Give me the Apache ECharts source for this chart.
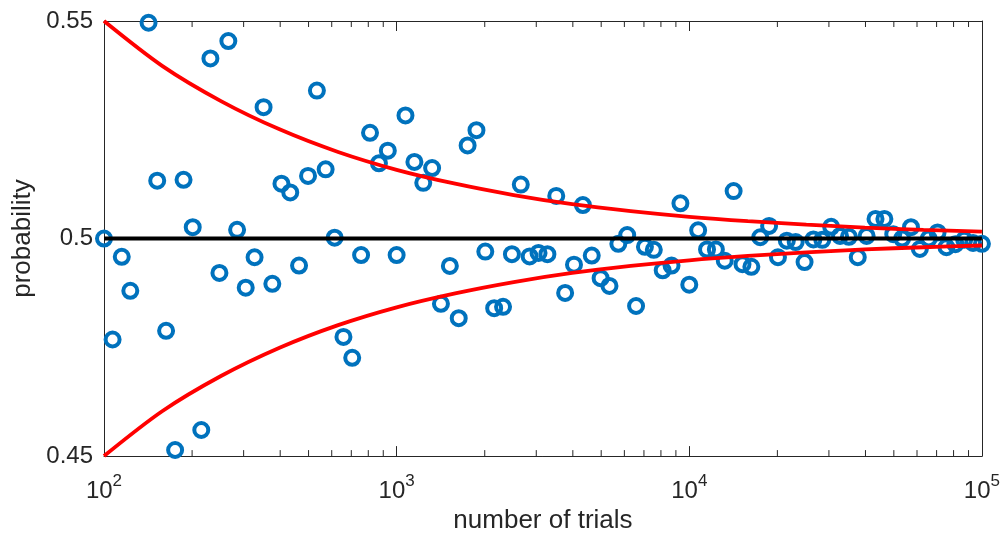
<!DOCTYPE html>
<html>
<head>
<meta charset="utf-8">
<script src="https://cdn.jsdelivr.net/npm/echarts@6/dist/echarts.min.js"></script>
<style>
  html, body { margin: 0; padding: 0; background: #fff; }
  #chart { width: 1003px; height: 539px; }
</style>
</head>
<body>
<div id="chart"></div>
<script>
// number of trials for each run (one point outside 0.45..0.55 is not shown)
const trials = [
  100, 107, 115, 123,
  142, 152, 163, 175, 187, 201, 215, 231, 248, 266,
  285, 305, 327, 351, 376, 404, 433, 464, 498, 534,
  572, 614, 658, 705, 756, 811, 870, 933, 1000, 1072,
  1150, 1233, 1322, 1417, 1520, 1630, 1748, 1874, 2009, 2154,
  2310, 2477, 2656, 2848, 3054, 3275, 3511, 3765, 4037, 4329,
  4642, 4977, 5337, 5722, 6136, 6579, 7055, 7565, 8111, 8697,
  9326, 10000, 10723, 11498, 12328, 13219, 14175, 15199, 16298, 17475,
  18738, 20092, 21544, 23101, 24771, 26561, 28480, 30539, 32745, 35112,
  37649, 40370, 43288, 46416, 49770, 53367, 57224, 61359, 65793, 70548,
  75646, 81113, 86975, 93260, 100000
];

// estimated probability for each run
const probability = [
  0.5000, 0.4768, 0.4958, 0.4880,
  0.5496, 0.5133, 0.4788, 0.4514, 0.5135, 0.5026, 0.4560, 0.5414, 0.4921, 0.5454,
  0.5020, 0.4887, 0.4957, 0.5302, 0.4896, 0.5126, 0.5106, 0.4938, 0.5144, 0.5340,
  0.5159, 0.5002, 0.4774, 0.4726, 0.4962, 0.5243, 0.5173, 0.5202, 0.4962, 0.5283,
  0.5176, 0.5128, 0.5162, 0.4850, 0.4937, 0.4817, 0.5214, 0.5249, 0.4970, 0.4840,
  0.4843, 0.4964, 0.5124, 0.4959, 0.4967, 0.4964, 0.5098, 0.4875, 0.4940, 0.5077,
  0.4961, 0.4909, 0.4891, 0.4988, 0.5008, 0.4845, 0.4981, 0.4974, 0.4927, 0.4938,
  0.5081, 0.4894, 0.5019, 0.4975, 0.4975, 0.4949, 0.5109, 0.4941, 0.4935, 0.5003,
  0.5029, 0.4957, 0.4995, 0.4992, 0.4946, 0.4998, 0.4997, 0.5027, 0.5006, 0.5004,
  0.4957, 0.5006, 0.5045, 0.5045, 0.5010, 0.5000, 0.5026, 0.4976, 0.5000, 0.5014,
  0.4980, 0.4987, 0.4997, 0.4990, 0.4988
];

// red envelope
const boundTrials = [100, 158, 251, 398, 631, 1000, 1585, 2512, 3981, 6310,
  10000, 15849, 25119, 39811, 63096, 100000];
const upperBound = [0.5500, 0.5397, 0.5316, 0.5251, 0.5199, 0.5158, 0.5126, 0.5100,
  0.5079, 0.5063, 0.5050, 0.5040, 0.5032, 0.5025, 0.5020, 0.5016];
const lowerBound = [0.4500, 0.4603, 0.4684, 0.4749, 0.4801, 0.4842, 0.4874, 0.4900,
  0.4921, 0.4937, 0.4950, 0.4960, 0.4968, 0.4975, 0.4980, 0.4984];

const trueTrials = [100, 100000];
const trueValue = [0.5, 0.5];

const minorTicks = [200, 300, 400, 500, 600, 700, 800, 900,
  2000, 3000, 4000, 5000, 6000, 7000, 8000, 9000,
  20000, 30000, 40000, 50000, 60000, 70000, 80000, 90000];

const yMin = 0.45, yMax = 0.55;
const ink = '#262626';
const font = 'Liberation Sans';

const zip = (xs, ys) => xs.map((x, i) => [x, ys[i]]);

const myChart = echarts.init(document.getElementById('chart'));

const xCommon = {
  type: 'log',
  logBase: 10,
  min: 100,
  max: 100000,
  splitLine: { show: false },
  axisLine: { show: true, lineStyle: { color: ink, width: 1 } },
  axisTick: { show: true, inside: true, length: 10, lineStyle: { color: ink } },
};
const yCommon = {
  type: 'value',
  min: yMin,
  max: yMax,
  interval: 0.05,
  splitLine: { show: false },
  axisLine: { show: true, lineStyle: { color: ink, width: 1 } },
  axisTick: { show: true, inside: true, length: 10, lineStyle: { color: ink } },
};

myChart.setOption({
  animation: false,
  backgroundColor: '#fff',
  grid: { left: 104, right: 19, top: 21, bottom: 81 },
  xAxis: [
    Object.assign({}, xCommon, {
      position: 'bottom',
      name: 'number of trials',
      nameLocation: 'middle',
      nameGap: 50,
      nameTextStyle: { color: ink, fontSize: 26, fontFamily: font },
      axisLabel: {
        margin: 17,
        color: ink,
        fontFamily: font,
        formatter: v => '{b|10}{e|' + Math.round(Math.log10(v)) + '}',
        rich: {
          b: { fontSize: 24, fontFamily: font, color: ink, padding: [6, 0, 0, 0] },
          e: { fontSize: 17, fontFamily: font, color: ink, verticalAlign: 'top' },
        },
      },
    }),
    Object.assign({}, xCommon, { position: 'top', axisLabel: { show: false } }),
  ],
  yAxis: [
    Object.assign({}, yCommon, {
      position: 'left',
      name: 'probability',
      nameLocation: 'middle',
      nameGap: 56,
      nameTextStyle: { color: ink, fontSize: 26, fontFamily: font },
      axisLabel: {
        margin: 11,
        color: ink,
        fontSize: 24,
        fontFamily: font,
        formatter: v => String(Math.round(v * 100) / 100),
      },
    }),
    Object.assign({}, yCommon, { position: 'right', axisLabel: { show: false } }),
  ],
  series: [
    {
      name: 'runs',
      type: 'scatter',
      data: zip(trials, probability),
      symbol: 'circle',
      symbolSize: 14,
      itemStyle: { color: 'rgba(0,0,0,0)', borderColor: '#0072BD', borderWidth: 4, opacity: 1 },
      emphasis: { disabled: true },
      z: 2,
    },
    {
      name: 'upper',
      type: 'line',
      data: zip(boundTrials, upperBound),
      showSymbol: false,
      smooth: 0.3,
      lineStyle: { color: '#ff0000', width: 3.8 },
      z: 3,
    },
    {
      name: 'lower',
      type: 'line',
      data: zip(boundTrials, lowerBound),
      showSymbol: false,
      smooth: 0.3,
      lineStyle: { color: '#ff0000', width: 3.8 },
      z: 3,
    },
    {
      name: 'true',
      type: 'line',
      data: zip(trueTrials, trueValue),
      showSymbol: false,
      lineStyle: { color: '#000', width: 4 },
      z: 4,
    },
    {
      // log minor ticks on bottom and top edges
      type: 'custom',
      silent: true,
      clip: false,
      data: minorTicks.map(v => [v, 0.5]),
      renderItem: (params, api) => {
        const b = api.coord([api.value(0), yMin]);
        const t = api.coord([api.value(0), yMax]);
        const st = { stroke: ink, lineWidth: 1 };
        return {
          type: 'group',
          children: [
            { type: 'line', shape: { x1: b[0], y1: b[1], x2: b[0], y2: b[1] - 6 }, style: st },
            { type: 'line', shape: { x1: t[0], y1: t[1], x2: t[0], y2: t[1] + 6 }, style: st },
          ],
        };
      },
      z: 5,
    },
  ],
});
</script>
</body>
</html>
